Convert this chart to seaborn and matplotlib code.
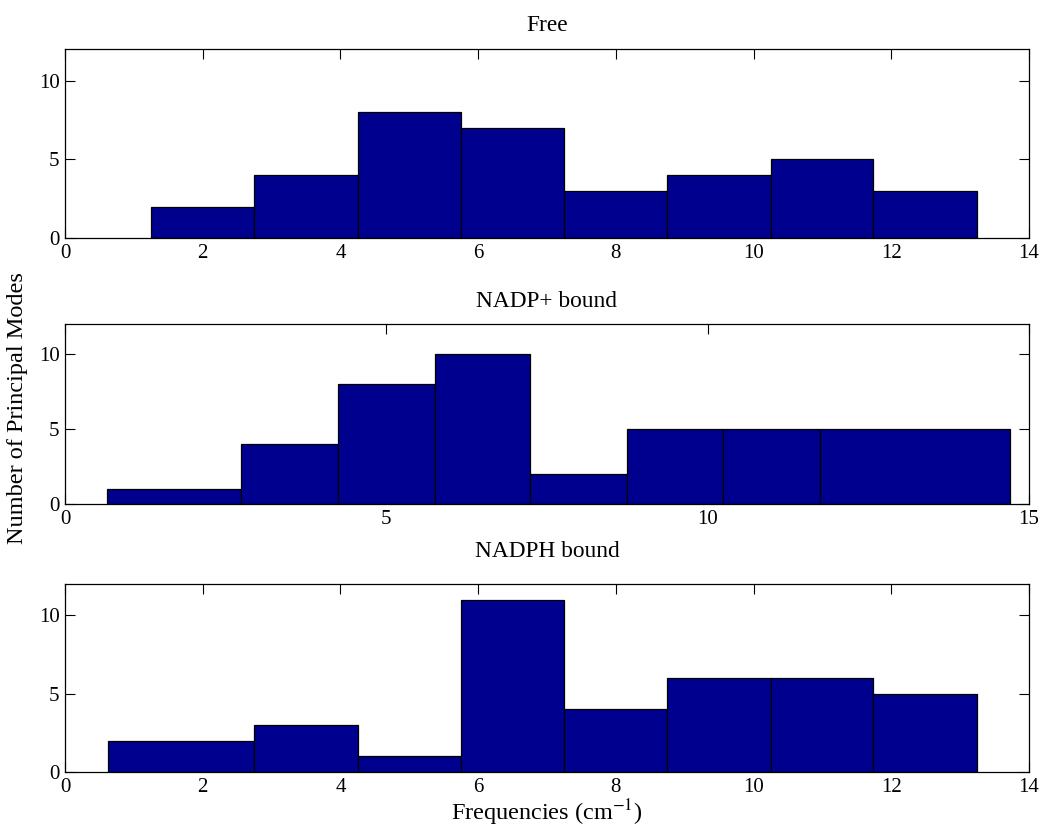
import numpy as np
import pandas as pd
import matplotlib
matplotlib.use("Agg")
import matplotlib.pyplot as plt
import seaborn as sns

# Bin edges and counts of principal modes for each state
free_edges = [1.25, 2.75, 4.25, 5.75, 7.25, 8.74, 10.25, 11.74, 13.24]
free_counts = [2, 4, 8, 7, 3, 4, 5, 3]

nadp_edges = [0.66, 2.74, 4.25, 5.75, 7.24, 8.74, 10.24, 11.75, 14.71]
nadp_counts = [1, 4, 8, 10, 2, 5, 5, 5]

nadph_edges = [0.63, 2.75, 4.25, 5.75, 7.25, 8.74, 10.25, 11.74, 13.24]
nadph_counts = [2, 3, 1, 11, 4, 6, 6, 5]

titles = ["Free", "NADP+ bound", "NADPH bound"]
xlims = [14, 15, 14]
xticks = [[0, 2, 4, 6, 8, 10, 12, 14], [0, 5, 10, 15], [0, 2, 4, 6, 8, 10, 12, 14]]
yticks = [0, 5, 10]

sns.set_style("ticks")
plt.rcParams["font.family"] = ["Liberation Serif", "DejaVu Serif"]
plt.rcParams["mathtext.fontset"] = "stix"
plt.rcParams["text.color"] = "black"
plt.rcParams["axes.labelcolor"] = "black"

W, H = 1043, 834
fig = plt.figure(figsize=(W / 100, H / 100), dpi=100)

# axes boxes in pixel coordinates (left, top, right, bottom)
boxes = [(65, 49, 1029, 238), (65, 324, 1029, 504), (65, 584, 1029, 772)]
series = [(free_edges, free_counts), (nadp_edges, nadp_counts), (nadph_edges, nadph_counts)]
title_pads = [13, 12.5, 19.5]

bar_color = "#00008F"
axes = []
for (l, t, r, b), (edges, counts), title, xl, xt, tp in zip(
        boxes, series, titles, xlims, xticks, title_pads):
    ax = fig.add_axes([l / W, 1 - b / H, (r - l) / W, (b - t) / H])
    e = list(edges)
    mids = [(a + c) / 2 for a, c in zip(e[:-1], e[1:])]
    df = pd.DataFrame({"freq": mids, "n": counts})
    sns.histplot(data=df, x="freq", weights="n", bins=e, ax=ax,
                 color=bar_color, edgecolor="black", linewidth=0.9,
                 alpha=1.0, stat="count")
    ax.set_xlim(0, xl)
    ax.set_ylim(0, 12)
    ax.set_xticks(xt)
    ax.set_yticks(yticks)
    ax.set_xlabel("")
    ax.set_ylabel("")
    ax.set_title(title, fontsize=16.8, pad=tp, color="black")
    ax.tick_params(direction="in", length=7, width=0.8, top=True, right=True,
                   labelsize=15, colors="black", pad=4)
    for s in ax.spines.values():
        s.set_visible(True)
        s.set_color("black")
        s.set_linewidth(0.9)
    axes.append(ax)

axes[1].set_ylabel("Number of Principal Modes", fontsize=17.5)
axes[1].yaxis.set_label_coords(-0.038, 0.533)
axes[2].set_xlabel("Frequencies (cm$^{-1}$)", fontsize=17.5, labelpad=1)

fig.savefig("out.png", dpi=100, facecolor="white")
